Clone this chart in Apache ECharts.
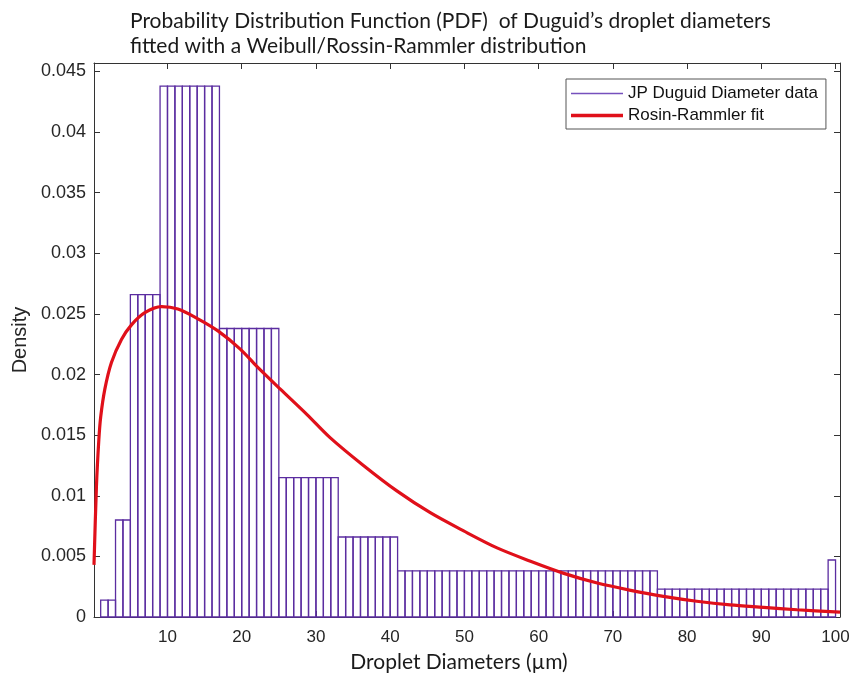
<!DOCTYPE html>
<html><head><meta charset="utf-8">
<script src="https://cdn.jsdelivr.net/npm/echarts@6/dist/echarts.min.js"></script>
<style>html,body{margin:0;padding:0;background:#fff}#c{width:854px;height:680px}</style>
</head><body><div id="c"></div>
<script>
// Histogram bins (edges in µm) and densities
const binEdges = [1, 3, 5, 9, 17, 25, 33, 41, 76, 99, 100];
const binDensity = [0.0014, 0.0080, 0.0266, 0.0438, 0.0238, 0.0115, 0.0066, 0.0038, 0.0023, 0.0047];
// Rosin-Rammler fit
const fitX = [0.1, 0.43, 0.75, 1.0, 1.56, 2.45, 3.8, 5.15, 6.95, 9.2, 11.4, 14.1, 16.8, 19.8, 22.0, 25.2, 28.8, 31.9, 36.4, 40.9, 45.4, 49.9, 54.4, 58.9, 63.4, 67.9, 72.4, 76.8, 81.3, 85.8, 90.3, 94.8, 100.6];
const fitY = [0.0043, 0.0108, 0.0146, 0.0165, 0.0188, 0.0210, 0.0229, 0.0241, 0.0251, 0.0256, 0.0254, 0.0246, 0.0236, 0.0221, 0.0207, 0.0188, 0.0167, 0.0148, 0.0125, 0.0104, 0.0086, 0.0071, 0.0057, 0.0046, 0.0036, 0.0028, 0.0022, 0.0017, 0.0013, 0.0010, 0.0008, 0.0006, 0.0004];
const xTicks = [10, 20, 30, 40, 50, 60, 70, 80, 90, 100];
const yTicks = [0, 0.005, 0.01, 0.015, 0.02, 0.025, 0.03, 0.035, 0.04, 0.045];
const xRange = [0.1, 100.6];
const yRange = [0, 0.0457];

const histName = 'JP Duguid Diameter data';
const fitName = 'Rosin-Rammler fit';

// unit-width cells of the histogram (the reference draws every bin as 1-µm cells)
const cells = [];
for (let i = 0; i < binDensity.length; i++) {
  for (let c = binEdges[i]; c < binEdges[i + 1]; c++) cells.push([c, c + 1, binDensity[i]]);
}
const fitData = fitX.map((x, i) => [x, fitY[i]]);

const axisColor = '#333333';
const labelFont = 'Liberation Sans';
const titleFont = 'Lato';

const chart = echarts.init(document.getElementById('c'), null, {renderer: 'canvas'});
chart.setOption({
  animation: false,
  backgroundColor: '#ffffff',
  title: {
    text: 'Probability Distribution Function (PDF)  of Duguid\u2019s droplet diameters\nfitted with a Weibull/Rossin-Rammler distribution',
    left: 130, top: 9, padding: 0,
    textStyle: {fontFamily: titleFont, fontSize: 21, fontWeight: 'normal', color: '#1a1a1a', lineHeight: 25}
  },
  grid: {left: 94, right: 14, top: 63, bottom: 63, containLabel: false},
  legend: {
    orient: 'vertical', left: 566, top: 79,
    padding: [6, 8, 5, 5], itemGap: 5, itemWidth: 52, itemHeight: 14,
    backgroundColor: '#ffffff', borderColor: '#555555', borderWidth: 1, borderRadius: 0,
    textStyle: {fontFamily: labelFont, fontSize: 17, color: '#111111', lineHeight: 16},
    data: [
      {name: histName, icon: 'path://M0,0H100V3H0Z', itemStyle: {color: '#7650bd'}},
      {name: fitName, icon: 'path://M0,0H100V7H0Z', itemStyle: {color: '#e0101a'}}
    ]
  },
  xAxis: [{
    type: 'value', min: xRange[0], max: xRange[1], position: 'bottom',
    name: 'Droplet Diameters (\u00b5m)', nameLocation: 'middle', nameGap: 35,
    nameTextStyle: {fontFamily: titleFont, fontSize: 21, color: '#1a1a1a', padding: [0, 16, 0, 0]},
    axisLine: {show: true, onZero: false, lineStyle: {color: axisColor, width: 1}},
    axisTick: {show: true, inside: true, length: 6, customValues: xTicks, lineStyle: {color: axisColor}},
    axisLabel: {customValues: xTicks, fontFamily: labelFont, fontSize: 17, color: '#262626', margin: 12},
    splitLine: {show: false}
  }, {
    type: 'value', min: xRange[0], max: xRange[1], position: 'top',
    axisLine: {show: true, onZero: false, lineStyle: {color: axisColor, width: 1}},
    axisTick: {show: true, inside: true, length: 6, customValues: xTicks, lineStyle: {color: axisColor}},
    axisLabel: {show: false}, splitLine: {show: false}
  }],
  yAxis: [{
    type: 'value', min: yRange[0], max: yRange[1], position: 'left',
    name: 'Density', nameLocation: 'middle', nameGap: 62,
    nameTextStyle: {fontFamily: labelFont, fontSize: 20, color: '#262626'},
    axisLine: {show: true, onZero: false, lineStyle: {color: axisColor, width: 1}},
    axisTick: {show: true, inside: true, length: 6, customValues: yTicks, lineStyle: {color: axisColor}},
    axisLabel: {customValues: yTicks, fontFamily: labelFont, fontSize: 18, color: '#262626', margin: 8,
      formatter: v => String(+(+v).toFixed(3))},
    splitLine: {show: false}
  }, {
    type: 'value', min: yRange[0], max: yRange[1], position: 'right',
    axisLine: {show: true, onZero: false, lineStyle: {color: axisColor, width: 1}},
    axisTick: {show: true, inside: true, length: 6, customValues: yTicks, lineStyle: {color: axisColor}},
    axisLabel: {show: false}, splitLine: {show: false}
  }],
  series: [{
    name: histName, type: 'custom', xAxisIndex: 0, yAxisIndex: 0,
    itemStyle: {color: '#7650bd'},
    encode: {x: [0, 1], y: 2},
    data: cells,
    renderItem: function (params, api) {
      const p0 = api.coord([api.value(0), 0]);
      const p1 = api.coord([api.value(1), api.value(2)]);
      return {
        type: 'rect',
        shape: {x: p0[0], y: p1[1], width: p1[0] - p0[0], height: p0[1] - p1[1]},
        style: {fill: 'none', stroke: '#5b2da0', lineWidth: 1.3}
      };
    },
    z: 2
  }, {
    name: fitName, type: 'line', xAxisIndex: 0, yAxisIndex: 0,
    data: fitData, showSymbol: false, symbol: 'none',
    smooth: 0.3,
    lineStyle: {color: '#e0101a', width: 3.2},
    itemStyle: {color: '#e0101a'},
    clip: true, z: 3
  }]
});
</script>
</body></html>
